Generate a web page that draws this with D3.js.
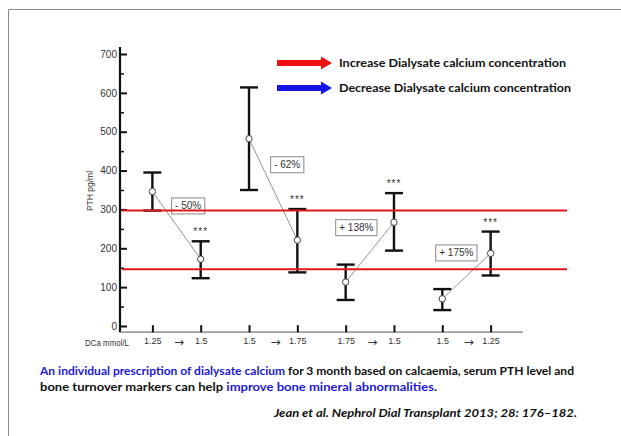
<!DOCTYPE html>
<html>
<head>
<meta charset="utf-8">
<script src="https://cdn.jsdelivr.net/npm/d3@7"></script>
<style>
  body { margin: 0; background: #fff; }
  svg { display: block; }
</style>
</head>
<body>
<div id="chart"></div>
<script>
// values (PTH pg/ml, mean and error bar ends)
var doseLabels = ["1.25", "1.5", "1.5", "1.75", "1.75", "1.5", "1.5", "1.25"];
var pthMean  = [346, 172, 482, 221, 113, 267, 70, 187];
var pthUpper = [395, 218, 614, 301, 158, 342, 95, 243];
var pthLower = [297, 123, 350, 138, 67, 194, 41, 130];
var changeLabels = ["- 50%", "- 62%", "+ 138%", "+ 175%"];
var targetRange = [146, 297];
var yTicks = [0, 100, 200, 300, 400, 500, 600, 700];
var yMinorTicks = [50, 150, 250, 350, 450, 550, 650];

function drawChart() {
    var svgWidth = 621, svgHeight = 436;
    var svg = d3.select("#chart").append("svg")
        .attr("width", svgWidth)
        .attr("height", svgHeight);

    // frame of the slide
    svg.append("path")
        .attr("d", "M8.5,436V9.5H621")
        .attr("fill", "none")
        .attr("stroke", "#8a8a8a")
        .attr("stroke-width", 1);

    var x = d3.scaleLinear().domain([0.33, 8.67]).range([120, 523]);
    var y = d3.scaleLinear().domain([0, 700]).range([326, 54]);
    var axisY = y(-16);
    var small = "'Liberation Sans', Arial, sans-serif";

    // y axis: ticks to the right, labels to the left
    svg.append("line")
        .attr("x1", 120).attr("x2", 120)
        .attr("y1", y(718)).attr("y2", axisY)
        .attr("stroke", "#111").attr("stroke-width", 2.2);

    var yAxis = svg.append("g")
        .attr("transform", "translate(120,0)")
        .call(d3.axisLeft(y).tickValues(yTicks).tickSize(-7).tickPadding(3));
    yAxis.select(".domain").remove();
    yAxis.selectAll(".tick line").attr("stroke", "#111").attr("stroke-width", 2);
    yAxis.selectAll(".tick text")
        .style("font", "10px " + small)
        .attr("fill", "#333");

    var yMinor = svg.append("g")
        .attr("transform", "translate(120,0)")
        .call(d3.axisLeft(y).tickValues(yMinorTicks).tickSize(-4).tickFormat(""));
    yMinor.select(".domain").remove();
    yMinor.selectAll(".tick line").attr("stroke", "#111").attr("stroke-width", 1.5);

    svg.append("text")
        .attr("transform", "translate(93,191) rotate(-90)")
        .attr("text-anchor", "middle")
        .style("font", "8.5px " + small)
        .attr("fill", "#333")
        .text("PTH pg/ml");

    // x axis
    svg.append("line")
        .attr("x1", 120).attr("x2", 523)
        .attr("y1", axisY).attr("y2", axisY)
        .attr("stroke", "#777").attr("stroke-width", 1.3);

    var xAxis = svg.append("g")
        .attr("transform", "translate(0," + axisY + ")")
        .call(d3.axisBottom(x)
            .tickValues(d3.range(1, doseLabels.length + 1))
            .tickFormat(function(d) { return doseLabels[d - 1]; })
            .tickSize(-7).tickPadding(5));
    xAxis.select(".domain").remove();
    xAxis.selectAll(".tick line").attr("stroke", "#111").attr("stroke-width", 2);
    xAxis.selectAll(".tick text")
        .style("font", "9px " + small)
        .attr("fill", "#333");

    svg.append("text")
        .attr("x", 85).attr("y", axisY + 14)
        .attr("textLength", 44)
        .attr("lengthAdjust", "spacingAndGlyphs")
        .style("font", "9px " + small)
        .attr("fill", "#333")
        .text("DCa mmol/L");

    // arrows between the dialysate concentrations of each pair
    svg.selectAll(".dose-arrow")
        .data(changeLabels)
        .enter().append("text")
        .attr("class", "dose-arrow")
        .attr("x", function(d, i) { return x(2 * i + 1.55); })
        .attr("y", axisY + 14)
        .attr("text-anchor", "middle")
        .style("font", "12px 'DejaVu Sans', sans-serif")
        .attr("fill", "#333")
        .text("\u2192");

    var points = pthMean.map(function(m, i) {
        return { i: i + 1, mean: m, hi: pthUpper[i], lo: pthLower[i] };
    });

    // error bars
    var bars = svg.selectAll(".ebar")
        .data(points)
        .enter().append("g")
        .attr("class", "ebar")
        .attr("stroke", "#111")
        .attr("stroke-width", 2.4);
    bars.append("line")
        .attr("x1", function(d) { return x(d.i); })
        .attr("x2", function(d) { return x(d.i); })
        .attr("y1", function(d) { return y(d.hi); })
        .attr("y2", function(d) { return y(d.lo); });
    bars.append("line")
        .attr("x1", function(d) { return x(d.i) - 9; })
        .attr("x2", function(d) { return x(d.i) + 9; })
        .attr("y1", function(d) { return y(d.hi); })
        .attr("y2", function(d) { return y(d.hi); });
    bars.append("line")
        .attr("x1", function(d) { return x(d.i) - 9; })
        .attr("x2", function(d) { return x(d.i) + 9; })
        .attr("y1", function(d) { return y(d.lo); })
        .attr("y2", function(d) { return y(d.lo); });

    // thin lines joining before / after
    var pairs = changeLabels.map(function(label, k) {
        return { label: label, a: points[2 * k], b: points[2 * k + 1] };
    });
    svg.selectAll(".pair-line")
        .data(pairs)
        .enter().append("line")
        .attr("class", "pair-line")
        .attr("x1", function(d) { return x(d.a.i); })
        .attr("y1", function(d) { return y(d.a.mean); })
        .attr("x2", function(d) { return x(d.b.i); })
        .attr("y2", function(d) { return y(d.b.mean); })
        .attr("stroke", "#777")
        .attr("stroke-width", 0.8);

    // percentage change boxes (centre in data units)
    var boxAt = [[1.74, 309], [3.79, 415], [5.22, 253], [7.29, 188]];
    var box = svg.selectAll(".change")
        .data(pairs)
        .enter().append("g")
        .attr("class", "change")
        .attr("transform", function(d, k) {
            return "translate(" + x(boxAt[k][0]) + "," + y(boxAt[k][1]) + ")";
        });
    box.append("text")
        .attr("text-anchor", "middle")
        .attr("dy", "0.35em")
        .style("font", "10px " + small)
        .attr("fill", "#333")
        .text(function(d) { return d.label; });
    box.insert("rect", "text")
        .each(function() {
            var t = this.parentNode.querySelector("text").getBBox();
            d3.select(this)
                .attr("x", t.x - 3.5).attr("y", -8)
                .attr("width", t.width + 7).attr("height", 16);
        })
        .attr("fill", "#fff")
        .attr("stroke", "#888")
        .attr("stroke-width", 1);

    // target range lines
    svg.selectAll(".target")
        .data(targetRange)
        .enter().append("line")
        .attr("class", "target")
        .attr("x1", 122).attr("x2", 567)
        .attr("y1", function(d) { return y(d); })
        .attr("y2", function(d) { return y(d); })
        .attr("stroke", "#e0161c")
        .attr("stroke-width", 2);

    // means
    svg.selectAll(".mean")
        .data(points)
        .enter().append("circle")
        .attr("class", "mean")
        .attr("cx", function(d) { return x(d.i); })
        .attr("cy", function(d) { return y(d.mean); })
        .attr("r", 3.2)
        .attr("fill", "#fff")
        .attr("stroke", "#444")
        .attr("stroke-width", 1);

    // significance stars above each "after" bar
    svg.selectAll(".stars")
        .data(pairs)
        .enter().append("text")
        .attr("class", "stars")
        .attr("x", function(d) { return x(d.b.i); })
        .attr("y", function(d) { return y(d.b.hi) - 6; })
        .attr("text-anchor", "middle")
        .attr("letter-spacing", 1)
        .style("font", "10px " + small)
        .attr("fill", "#333")
        .text("***");

    // legend
    var legend = [
        { text: "Increase Dialysate calcium concentration", color: "#f01010", y: 63, w: 227 },
        { text: "Decrease Dialysate calcium concentration", color: "#1414e6", y: 88, w: 232 }
    ];
    var lg = svg.selectAll(".legend")
        .data(legend)
        .enter().append("g")
        .attr("class", "legend")
        .attr("transform", function(d) { return "translate(0," + d.y + ")"; });
    lg.append("path")
        .attr("d", "M277,-3H321V-6.5L332,0L321,6.5V3H277Z")
        .attr("fill", function(d) { return d.color; });
    lg.append("text")
        .attr("x", 339).attr("dy", "0.35em")
        .attr("textLength", function(d) { return d.w; })
        .attr("lengthAdjust", "spacingAndGlyphs")
        .style("font", "bold 11.5px Lato, 'Open Sans', sans-serif")
        .attr("fill", "#111")
        .text(function(d) { return d.text; });

    // caption below the chart
    var blue = "#1a1ad6";
    var captionLines = [
        [["An individual prescription of dialysate calcium", blue],
         [" for 3 month based on calcaemia, serum PTH level and", "#111"]],
        [["bone turnover markers can help ", "#111"],
         ["improve bone mineral abnormalities", blue], [".", "#111"]]
    ];
    var captionWidth = [534, 397];
    captionLines.forEach(function(parts, k) {
        var t = svg.append("text")
            .attr("x", 40).attr("y", 375 + 16 * k)
            .attr("textLength", captionWidth[k])
            .attr("lengthAdjust", "spacingAndGlyphs")
            .style("font", "bold 11.5px Lato, 'Open Sans', sans-serif");
        parts.forEach(function(p) {
            t.append("tspan").attr("fill", p[1]).text(p[0]);
        });
    });

    svg.append("text")
        .attr("x", 274).attr("y", 417)
        .attr("textLength", 303)
        .attr("lengthAdjust", "spacingAndGlyphs")
        .style("font", "italic bold 11.5px Lato, 'Open Sans', sans-serif")
        .attr("fill", "#111")
        .text("Jean et al. Nephrol Dial Transplant 2013; 28: 176\u2013182.");
}

drawChart();
</script>
</body>
</html>
